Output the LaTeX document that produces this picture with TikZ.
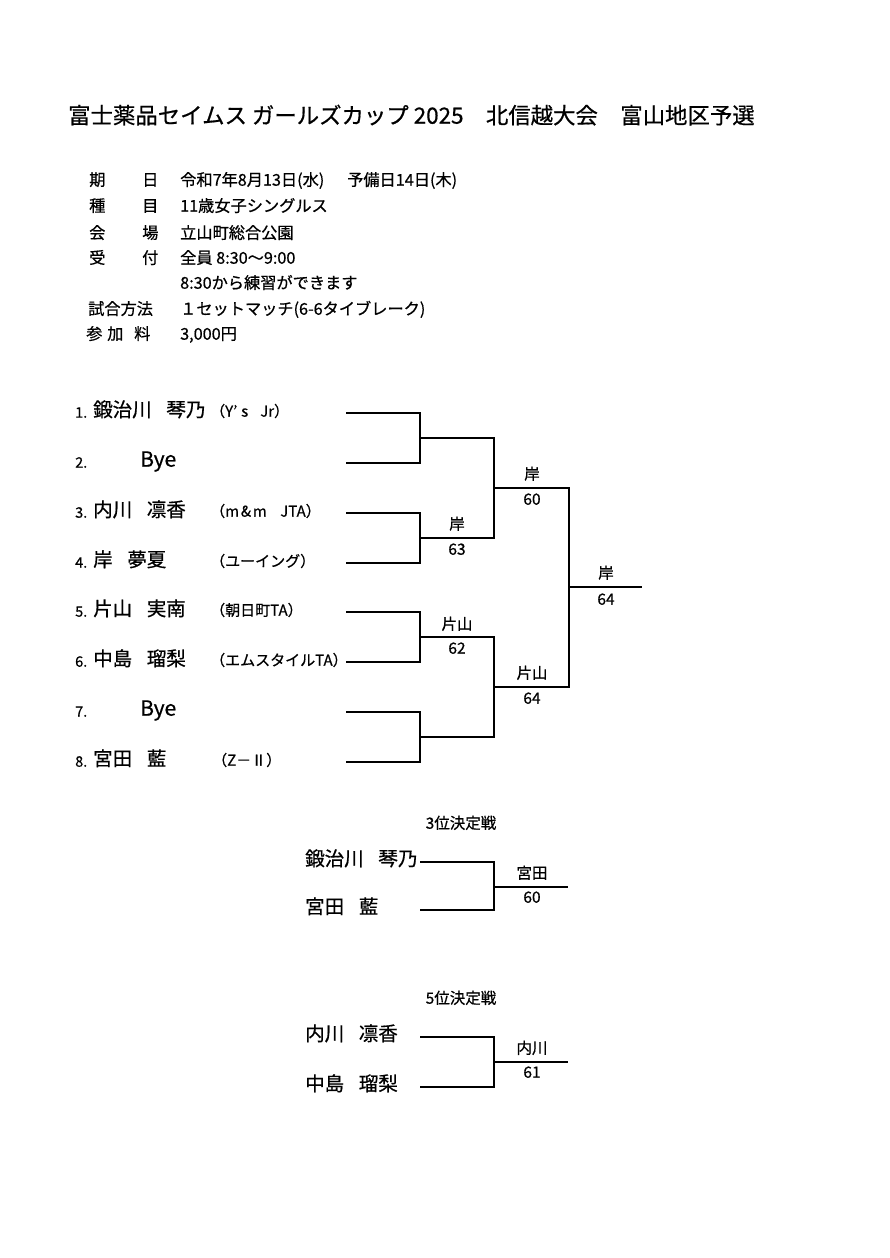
\documentclass[tikz,border=0pt]{standalone}
\usepackage{fontspec}
\setmainfont{Noto Sans CJK JP}[FakeBold=0.6]
\newcommand{\nmgap}{\hspace{0.75em}}
\begin{document}
\begin{tikzpicture}[x=1pt,y=-1pt,
  txt/.style={inner sep=0pt, text height=0.81em, text depth=0.07em},
  ttl/.style={txt, anchor=west, font=\fontsize{22.4}{24}\selectfont},
  info/.style={txt, anchor=west, font=\fontsize{16.2}{18}\selectfont},
  num/.style={txt, anchor=west, font=\fontsize{14.5}{16}\selectfont},
  nm/.style={txt, anchor=west, font=\fontsize{19.5}{21}\selectfont},
  bye/.style={txt, anchor=west, font=\fontsize{21}{23}\selectfont},
  aff/.style={txt, anchor=west, font=\fontsize{15}{17}\selectfont},
  res/.style={txt, anchor=center, font=\fontsize{15.5}{17}\selectfont},
  ln/.style={line width=1.1pt}]
\useasboundingbox[fill=white] (0,0) rectangle (890,1258);

% title
\node[ttl] (title) at (68,120) {富士薬品セイムス ガールズカップ 2025　北信越大会　富山地区予選};

% info block
\node[info] (l1a) at (89,182) {期};  \node[info] (l1b) at (142,182) {日};
\node[info] (v1) at (180,182) {令和7年8月13日(水)};
\node[info] (v1b) at (347,182) {予備日14日(木)};
\node[info] (l2a) at (89,208) {種};  \node[info] (l2b) at (142,208) {目};
\node[info] (v2) at (180,208) {11歳女子シングルス};
\node[info] (l3a) at (89,235) {会};  \node[info] (l3b) at (142,235) {場};
\node[info] (v3) at (180,235) {立山町総合公園};
\node[info] (l4a) at (89,260) {受};  \node[info] (l4b) at (142,260) {付};
\node[info] (v4) at (180,260) {全員 8:30～9:00};
\node[info] (v5) at (180,285) {8:30から練習ができます};
\node[info] (l6) at (88,311) {試合方法};
\node[info] (v6) at (180,311) {１セットマッチ(6-6タイブレーク)};
\node[info] (l7a) at (86,336) {参};  \node[info] (l7b) at (107,336) {加};  \node[info] (l7c) at (134,336) {料};
\node[info] (v7) at (180,336) {3,000円};

% entries
\node[num] (n1) at (75,414) {1.}; \node[nm] (e1) at (93,413) {鍛治川\nmgap 琴乃}; \node[aff] (c1) at (210,413) {（Y’\hspace{0.25em}s\hspace{0.8em}Jr）};
\node[num] (n2) at (75,464) {2.}; \node[bye] (e2) at (140,463) {Bye};
\node[num] (n3) at (75,514) {3.}; \node[nm] (e3) at (93,513) {内川\nmgap 凛香}; \node[aff] (c3) at (210,513) {（m\hspace{0.12em}\&\hspace{0.12em}m\hspace{0.9em}JTA）};
\node[num] (n4) at (75,564) {4.}; \node[nm] (e4) at (93,563) {岸\nmgap 夢夏}; \node[aff] (c4) at (210,563) {（ユーイング）};
\node[num] (n5) at (75,613) {5.}; \node[nm] (e5) at (93,612) {片山\nmgap 実南}; \node[aff] (c5) at (210,612) {（朝日町TA）};
\node[num] (n6) at (75,663) {6.}; \node[nm] (e6) at (93,662) {中島\nmgap 瑠梨}; \node[aff] (c6) at (210,662) {（エムスタイルTA）};
\node[num] (n7) at (75,713) {7.}; \node[bye] (e7) at (140,712) {Bye};
\node[num] (n8) at (75,763) {8.}; \node[nm] (e8) at (93,762) {宮田\nmgap 藍}; \node[aff] (c8) at (212,762) {（Z－Ⅱ）};

% bracket coordinates
\coordinate (s1) at (346,413); \coordinate (s2) at (346,463);
\coordinate (s3) at (346,513); \coordinate (s4) at (346,563);
\coordinate (s5) at (346,612); \coordinate (s6) at (346,662);
\coordinate (s7) at (346,712); \coordinate (s8) at (346,762);
\coordinate (m1) at (420,438); \coordinate (m2) at (420,538);
\coordinate (m3) at (420,637); \coordinate (m4) at (420,737);
\coordinate (p1) at (494,488); \coordinate (p2) at (494,687);
\coordinate (f) at (569,587);  \coordinate (w) at (642,587);

\draw[ln] (s1) -| (m1) |- (s2);
\draw[ln] (s3) -| (m2) |- (s4);
\draw[ln] (s5) -| (m3) |- (s6);
\draw[ln] (s7) -| (m4) |- (s8);
\draw[ln] (m1) -| (p1) |- (m2);
\draw[ln] (m3) -| (p2) |- (m4);
\draw[ln] (p1) -| (f) |- (p2);
\draw[ln] (f) -- (w);

% results
\node[res] (r2a) at (457,526) {岸};   \node[res] (r2b) at (457,551) {63};
\node[res] (r3a) at (457,626) {片山}; \node[res] (r3b) at (457,650) {62};
\node[res] (r5a) at (532,476) {岸};   \node[res] (r5b) at (532,501) {60};
\node[res] (r6a) at (532,675) {片山}; \node[res] (r6b) at (532,700) {64};
\node[res] (r7a) at (606,575) {岸};   \node[res] (r7b) at (606,601) {64};

% 3rd place
\node[res] (h3) at (461,825) {3位決定戦};
\node[nm] (t1n) at (305,862) {鍛治川\nmgap 琴乃};
\node[nm] (t2n) at (305,910) {宮田\nmgap 藍};
\coordinate (t1) at (420,862); \coordinate (t2) at (420,910);
\coordinate (tj) at (494,887); \coordinate (tw) at (568,887);
\draw[ln] (t1) -| (tj) |- (t2);
\draw[ln] (tj) -- (tw);
\node[res] (t3a) at (532,875) {宮田}; \node[res] (t3b) at (532,899) {60};

% 5th place
\node[res] (h5) at (461,1000) {5位決定戦};
\node[nm] (u1n) at (305,1037) {内川\nmgap 凛香};
\node[nm] (u2n) at (305,1087) {中島\nmgap 瑠梨};
\coordinate (u1) at (420,1037); \coordinate (u2) at (420,1087);
\coordinate (uj) at (494,1062); \coordinate (uw) at (568,1062);
\draw[ln] (u1) -| (uj) |- (u2);
\draw[ln] (uj) -- (uw);
\node[res] (u3a) at (532,1050) {内川}; \node[res] (u3b) at (532,1074) {61};
\end{tikzpicture}
\end{document}
